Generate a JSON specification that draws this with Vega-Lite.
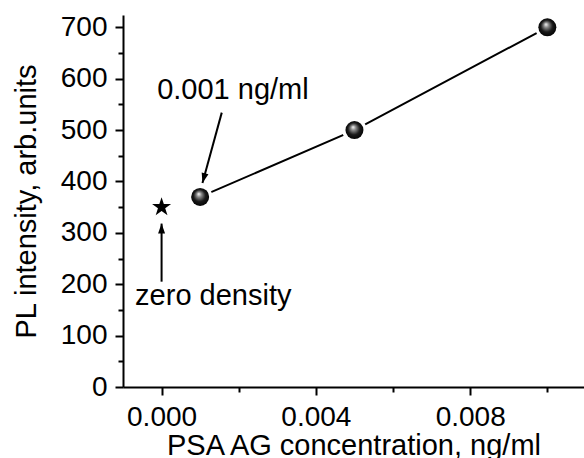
{
  "$schema": "https://vega.github.io/schema/vega-lite/v6.json",
  "width": 461,
  "height": 372,
  "autosize": {"type": "none"},
  "padding": {"left": 123, "top": 15, "right": 0, "bottom": 71},
  "background": "white",
  "config": {
    "view": {"stroke": null},
    "font": "Liberation Sans",
    "axis": {
      "grid": false,
      "domainColor": "black",
      "domainWidth": 2,
      "labelFont": "Liberation Sans",
      "labelFontSize": 28,
      "labelColor": "black",
      "labelPadding": 8,
      "titleFont": "Liberation Sans",
      "titleFontSize": 29,
      "titleFontWeight": "normal",
      "titleColor": "black"
    }
  },
  "datasets": {
    "series": [
      {"conc": 0.001, "pl": 370},
      {"conc": 0.005, "pl": 500},
      {"conc": 0.01, "pl": 700}
    ],
    "zero": [{"conc": 0, "pl": 350}],
    "arrows": [
      {"id": "a", "conc": 0.00156, "pl": 534, "conc2": 0.00106, "pl2": 397},
      {"id": "b", "conc": 0, "pl": 205, "conc2": 0, "pl2": 318}
    ],
    "heads": [
      {"id": "a", "conc": 0.00106, "pl": 397},
      {"id": "b", "conc": 0, "pl": 318}
    ],
    "labels": [
      {"conc": 0.00185, "pl": 560, "text": "0.001 ng/ml"},
      {"conc": 0.00134, "pl": 160, "text": "zero density"}
    ]
  },
  "resolve": {"axis": {"x": "independent", "y": "independent"}},
  "layer": [
    {
      "encoding": {
        "x": {
          "field": "conc",
          "type": "quantitative",
          "scale": {"domain": [-0.001, 0.01095], "nice": false, "zero": false},
          "axis": {
            "orient": "bottom",
            "title": "PSA AG concentration, ng/ml",
            "values": [0, 0.004, 0.008],
            "format": ".3f",
            "tickColor": "black",
            "tickWidth": 2,
            "tickSize": 8,
            "titlePadding": 0,
            "labelFlush": false,
            "labelOverlap": false
          }
        },
        "y": {
          "field": "pl",
          "type": "quantitative",
          "scale": {"domain": [0, 724], "nice": false},
          "axis": {
            "orient": "left",
            "title": "PL intensity, arb.units",
            "values": [0, 100, 200, 300, 400, 500, 600, 700],
            "tickColor": "black",
            "tickWidth": 2,
            "tickSize": 8,
            "titlePadding": 19,
            "labelFlush": false,
            "labelOverlap": false
          }
        }
      },
      "layer": [
        {
          "data": {"name": "series"},
          "mark": {"type": "line", "color": "black", "strokeWidth": 2}
        },
        {
          "data": {"name": "series"},
          "mark": {"type": "point", "filled": true, "fill": "white", "opacity": 1, "size": 600, "strokeWidth": 0}
        },
        {
          "data": {"name": "series"},
          "mark": {
            "type": "point",
            "filled": true,
            "opacity": 1,
            "size": 324,
            "strokeWidth": 0,
            "fill": {
              "gradient": "radial",
              "x1": 0.42, "y1": 0.33, "r1": 0,
              "x2": 0.5, "y2": 0.5, "r2": 0.55,
              "stops": [
                {"offset": 0, "color": "#ffffff"},
                {"offset": 0.25, "color": "#8a8a8a"},
                {"offset": 0.6, "color": "#1a1a1a"},
                {"offset": 1, "color": "#000000"}
              ]
            }
          }
        },
        {
          "data": {"name": "zero"},
          "mark": {
            "type": "point",
            "filled": true,
            "fill": "black",
            "opacity": 1,
            "size": 400,
            "strokeWidth": 0,
            "shape": "M0,-1L0.225,-0.309L0.951,-0.309L0.363,0.118L0.588,0.809L0,0.382L-0.588,0.809L-0.363,0.118L-0.951,-0.309L-0.225,-0.309Z"
          }
        },
        {
          "data": {"name": "arrows"},
          "mark": {"type": "rule", "color": "black", "strokeWidth": 2},
          "encoding": {
            "x2": {"field": "conc2"},
            "y2": {"field": "pl2"}
          }
        },
        {
          "data": {"name": "heads"},
          "transform": [{"filter": "datum.id === 'a'"}],
          "mark": {
            "type": "point", "filled": true, "fill": "black", "opacity": 1, "size": 400, "strokeWidth": 0,
            "angle": 195,
            "shape": "M0,0L-0.35,1L0.35,1Z"
          }
        },
        {
          "data": {"name": "heads"},
          "transform": [{"filter": "datum.id === 'b'"}],
          "mark": {
            "type": "point", "filled": true, "fill": "black", "opacity": 1, "size": 400, "strokeWidth": 0,
            "angle": 0,
            "shape": "M0,0L-0.35,1L0.35,1Z"
          }
        },
        {
          "data": {"name": "labels"},
          "mark": {"type": "text", "font": "Liberation Sans", "fontSize": 29, "align": "center", "baseline": "alphabetic", "color": "black"},
          "encoding": {"text": {"field": "text"}}
        }
      ]
    },
    {
      "data": {"name": "series"},
      "mark": {"type": "point", "opacity": 0},
      "encoding": {
        "x": {
          "field": "conc",
          "type": "quantitative",
          "axis": {
            "orient": "bottom",
            "title": null,
            "values": [0.002, 0.006, 0.01],
            "labels": false,
            "domain": false,
            "tickColor": "black",
            "tickWidth": 2,
            "tickSize": 5
          }
        },
        "y": {
          "field": "pl",
          "type": "quantitative",
          "axis": {
            "orient": "left",
            "title": null,
            "values": [50, 150, 250, 350, 450, 550, 650],
            "labels": false,
            "domain": false,
            "tickColor": "black",
            "tickWidth": 2,
            "tickSize": 5
          }
        }
      }
    }
  ]
}
